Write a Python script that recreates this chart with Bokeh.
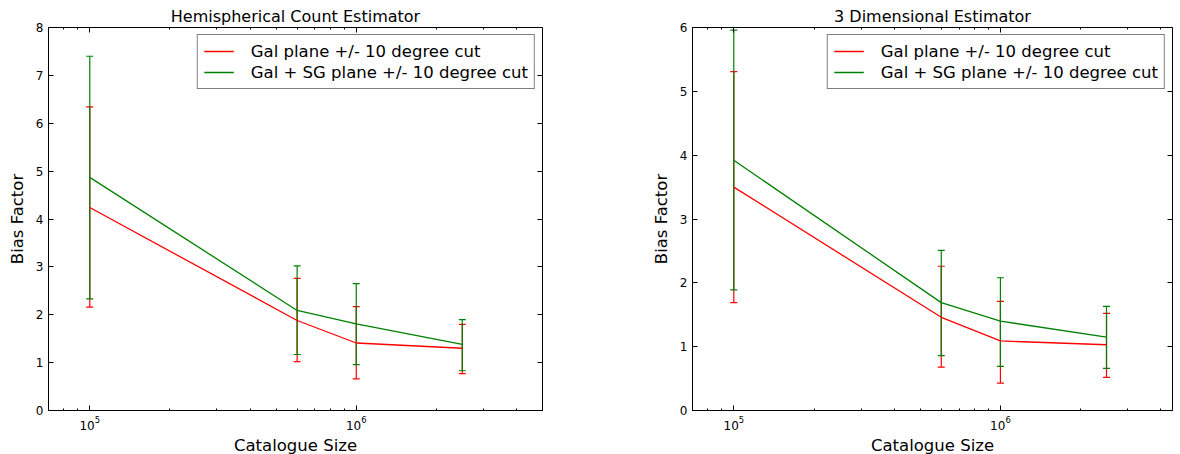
from bokeh.plotting import figure
from bokeh.models import (ColumnDataSource, Whisker, TeeHead, LogAxis, LinearAxis,
                          Legend, LegendItem, Range1d, CustomJSTickFormatter,
                          FixedTicker, LogTickFormatter)
from bokeh.layouts import row
from bokeh.embed import file_html
from bokeh.resources import INLINE

# ---------------- data ----------------
catalogue_size = [1e5, 6e5, 1e6, 2.5e6]

series_labels = ["Gal plane +/- 10 degree cut", "Gal + SG plane +/- 10 degree cut"]
panel_titles = ["Hemispherical Count Estimator", "3 Dimensional Estimator"]

# Hemispherical Count Estimator
hemi_gal_mean = [4.24, 1.88, 1.41, 1.30]
hemi_gal_lower = [2.16, 1.02, 0.66, 0.77]
hemi_gal_upper = [6.34, 2.76, 2.17, 1.80]
hemi_sg_mean = [4.87, 2.09, 1.81, 1.38]
hemi_sg_lower = [2.33, 1.17, 0.96, 0.83]
hemi_sg_upper = [7.40, 3.02, 2.65, 1.90]

# 3 Dimensional Estimator
dim3_gal_mean = [3.50, 1.46, 1.09, 1.03]
dim3_gal_lower = [1.69, 0.68, 0.43, 0.52]
dim3_gal_upper = [5.31, 2.26, 1.71, 1.52]
dim3_sg_mean = [3.92, 1.69, 1.40, 1.15]
dim3_sg_lower = [1.89, 0.86, 0.69, 0.66]
dim3_sg_upper = [5.96, 2.51, 2.08, 1.63]

# ticks
x_major_ticks = [1e5, 1e6]
x_minor_ticks = [8e4, 9e4, 2e5, 3e5, 4e5, 5e5, 6e5, 7e5, 8e5, 9e5, 2e6, 3e6, 4e6]
hemi_y_ticks = [0, 1, 2, 3, 4, 5, 6, 7, 8]
dim3_y_ticks = [0, 1, 2, 3, 4, 5, 6]

RED = "#ff0000"
GREEN = "#008000"
FONT = "DejaVu Sans"


def make_panel(title, series, y_ticks, x_end, frame_width, border_right):
    p = figure(x_axis_type="log", output_backend="svg", toolbar_location=None,
               frame_width=frame_width, frame_height=383,
               x_range=Range1d(7e4, x_end), y_range=Range1d(y_ticks[0], y_ticks[-1]),
               min_border_left=48, min_border_right=border_right,
               min_border_top=27, min_border_bottom=43,
               background_fill_color="white", border_fill_color="white")
    p.title.text = title
    p.title.align = "center"
    p.title.text_font = FONT
    p.title.text_font_size = "16px"
    p.title.text_font_style = "normal"
    p.title.text_color = "black"
    p.title.standoff = 4
    p.grid.visible = False
    p.outline_line_color = "black"
    p.outline_line_width = 1
    p.outline_line_alpha = 1

    items = []
    for (mean, lower, upper), color, label in zip(series, [RED, GREEN], series_labels):
        src = ColumnDataSource(dict(x=catalogue_size, y=mean, lower=lower, upper=upper))
        r = p.line("x", "y", source=src, line_color=color, line_width=1.3)
        w = Whisker(base="x", upper="upper", lower="lower", source=src,
                    line_color=color, line_width=1.2,
                    upper_head=TeeHead(size=7, line_color=color, line_width=1.2),
                    lower_head=TeeHead(size=7, line_color=color, line_width=1.2))
        p.add_layout(w)
        items.append(LegendItem(label=label, renderers=[r]))

    legend = Legend(items=items, location="top_right", margin=7,
                    padding=6, spacing=1, glyph_width=30, glyph_height=20,
                    label_height=20, label_standoff=17,
                    label_text_font=FONT, label_text_font_size="16.5px",
                    label_text_color="black",
                    border_line_color="black", border_line_width=1,
                    background_fill_alpha=1)
    p.add_layout(legend)

    xa = p.xaxis[0]
    ya = p.yaxis[0]
    xa.ticker = FixedTicker(ticks=x_major_ticks, minor_ticks=x_minor_ticks)
    xa.formatter = LogTickFormatter()
    ya.ticker = FixedTicker(ticks=y_ticks)
    for ax in (xa, ya):
        ax.axis_line_color = "black"
        ax.major_tick_in = 5
        ax.major_tick_out = 0
        ax.minor_tick_in = 2
        ax.minor_tick_out = 0
        ax.major_label_text_font = FONT
        ax.major_label_text_font_size = "12px"
        ax.major_label_text_color = "black"
        ax.axis_label_text_font = FONT
        ax.axis_label_text_font_size = "16.5px"
        ax.axis_label_text_font_style = "normal"
        ax.axis_label_text_color = "black"
        ax.major_label_standoff = 5
        ax.axis_label_standoff = 6
    ya.minor_tick_line_color = None
    xa.axis_label = "Catalogue Size"
    ya.axis_label = "Bias Factor"
    xa.major_label_standoff = 5
    xa.axis_label_standoff = 3

    blank = CustomJSTickFormatter(code="return ''")
    top = LogAxis(formatter=blank,
                  ticker=FixedTicker(ticks=x_major_ticks, minor_ticks=x_minor_ticks),
                  major_tick_in=5, major_tick_out=0,
                  minor_tick_in=2, minor_tick_out=0, axis_line_color=None,
                  major_label_standoff=0)
    right = LinearAxis(formatter=blank, ticker=FixedTicker(ticks=y_ticks),
                       major_tick_in=5, major_tick_out=0,
                       minor_tick_line_color=None, axis_line_color=None,
                       major_label_standoff=0)
    p.add_layout(top, "above")
    p.add_layout(right, "right")
    return p


p1 = make_panel(panel_titles[0],
                [(hemi_gal_mean, hemi_gal_lower, hemi_gal_upper),
                 (hemi_sg_mean, hemi_sg_lower, hemi_sg_upper)],
                hemi_y_ticks, 5e6, 494, 102)
p2 = make_panel(panel_titles[1],
                [(dim3_gal_mean, dim3_gal_lower, dim3_gal_upper),
                 (dim3_sg_mean, dim3_sg_lower, dim3_sg_upper)],
                dim3_y_ticks, 4.42e6, 480, 4)

layout = row(p1, p2)
open("out.html", "w").write(file_html(layout, INLINE))
